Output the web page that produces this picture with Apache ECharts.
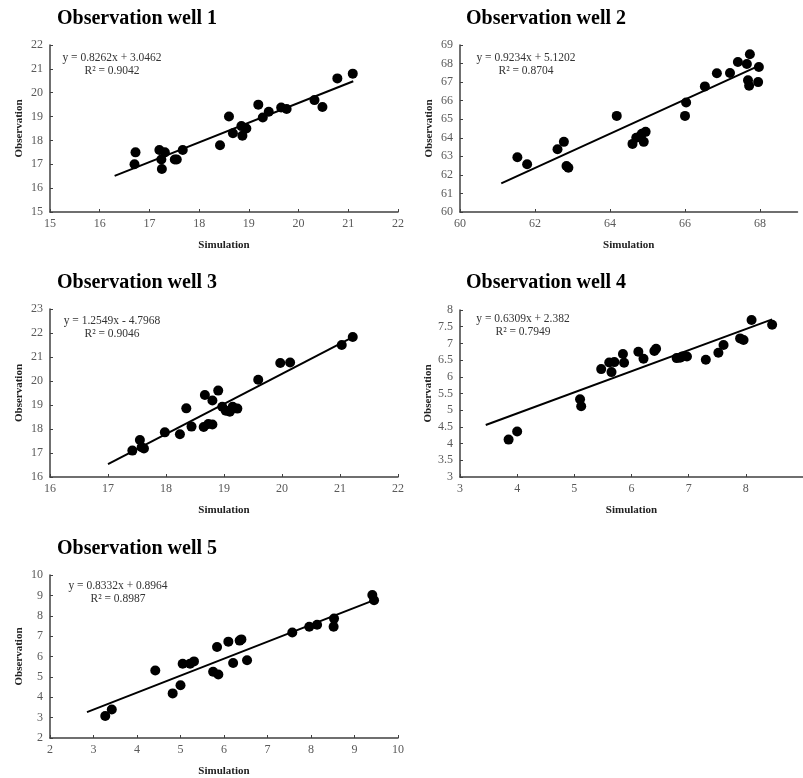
<!DOCTYPE html>
<html>
<head>
<meta charset="utf-8">
<script src="https://cdn.jsdelivr.net/npm/echarts@6/dist/echarts.min.js"></script>
<style>
  html, body { margin: 0; padding: 0; background: #fff; }
  #chart { width: 803px; height: 778px; }
</style>
</head>
<body>
<div id="chart"></div>
<script>
// panel titles
var wellNames = ["Observation well 1", "Observation well 2", "Observation well 3", "Observation well 4", "Observation well 5"];

// well 1: [simulation, observation]
var well1 = [
  [16.7, 17.0], [16.72, 17.5], [17.2, 17.6], [17.24, 17.2], [17.25, 16.8], [17.31, 17.5],
  [17.51, 17.2], [17.55, 17.2], [17.67, 17.6], [18.42, 17.8], [18.6, 19.0], [18.68, 18.3],
  [18.85, 18.6], [18.87, 18.2], [18.95, 18.5], [19.19, 19.5], [19.28, 18.96], [19.4, 19.2],
  [19.65, 19.38], [19.76, 19.32], [20.32, 19.69], [20.48, 19.4], [20.78, 20.6], [21.09, 20.8]
];
// well 2
var well2 = [
  [61.53, 62.95], [61.79, 62.57], [62.6, 63.38], [62.77, 63.78], [62.84, 62.48], [62.89, 62.38],
  [64.18, 65.18], [64.6, 63.67], [64.7, 64.0], [64.8, 64.08], [64.85, 64.22], [64.9, 63.78],
  [64.95, 64.32], [66.0, 65.18], [66.03, 65.9], [66.53, 66.77], [66.85, 67.48], [67.2, 67.49],
  [67.41, 68.08], [67.65, 67.98], [67.73, 68.5], [67.68, 67.1], [67.71, 66.8], [67.97, 67.81],
  [67.95, 67.0]
];
// well 3
var well3 = [
  [17.42, 17.1], [17.55, 17.54], [17.58, 17.24], [17.62, 17.19], [17.98, 17.86], [18.24, 17.78],
  [18.35, 18.86], [18.44, 18.1], [18.65, 18.08], [18.67, 19.42], [18.73, 18.21], [18.8, 18.19],
  [18.8, 19.19], [18.9, 19.6], [18.97, 18.93], [19.03, 18.76], [19.1, 18.72], [19.15, 18.93],
  [19.23, 18.85], [19.59, 20.05], [19.97, 20.75], [20.14, 20.77], [21.03, 21.5], [21.22, 21.83]
];
// well 4
var well4 = [
  [3.85, 4.12], [4.0, 4.36], [5.1, 5.33], [5.12, 5.12], [5.47, 6.23], [5.61, 6.43],
  [5.65, 6.14], [5.7, 6.44], [5.85, 6.68], [5.87, 6.42], [6.12, 6.75], [6.21, 6.54],
  [6.4, 6.77], [6.43, 6.84], [6.79, 6.56], [6.85, 6.57], [6.89, 6.61], [6.97, 6.61],
  [7.3, 6.51], [7.52, 6.72], [7.61, 6.95], [7.9, 7.15], [7.96, 7.1], [8.1, 7.7], [8.46, 7.56]
];
// well 5
var well5 = [
  [3.27, 3.08], [3.42, 3.4], [4.42, 5.31], [4.82, 4.19], [5.0, 4.59], [5.05, 5.64],
  [5.22, 5.65], [5.31, 5.76], [5.75, 5.25], [5.84, 6.47], [5.87, 5.12], [6.1, 6.73],
  [6.21, 5.68], [6.36, 6.78], [6.4, 6.84], [6.53, 5.82], [7.57, 7.18], [7.96, 7.46],
  [8.14, 7.56], [8.52, 7.46], [8.53, 7.86], [9.41, 9.02], [9.45, 8.76]
];

// fitted lines as printed on the chart, and their x extent
var slopes = [0.8262, 0.9234, 1.2549, 0.6309, 0.8332];
var intercepts = [3.0462, 5.1202, -4.7968, 2.382, 0.8964];
var trendFrom = [16.3, 61.1, 17.0, 3.45, 2.85];
var trendTo = [21.1, 67.95, 21.22, 8.46, 9.45];
var eqTexts = ["y = 0.8262x + 3.0462", "y = 0.9234x + 5.1202", "y = 1.2549x - 4.7968", "y = 0.6309x + 2.382", "y = 0.8332x + 0.8964"];
var r2Texts = ["R\u00b2 = 0.9042", "R\u00b2 = 0.8704", "R\u00b2 = 0.9046", "R\u00b2 = 0.7949", "R\u00b2 = 0.8987"];

// axis ranges
var xMin = [15, 60, 16, 3, 2], xMax = [22, 69, 22, 9, 10], xStep = [1, 2, 1, 1, 1];
var yMin = [15, 60, 16, 3, 2], yMax = [22, 69, 23, 8, 10], yStep = [1, 1, 1, 0.5, 1];

var allWells = [well1, well2, well3, well4, well5];

// layout of the panels
var grids = [
  { left: 50, top: 45, width: 348, height: 167 },
  { left: 460, top: 45, width: 337.5, height: 167 },
  { left: 50, top: 309, width: 348, height: 168 },
  { left: 460, top: 310, width: 347, height: 167 },
  { left: 50, top: 575, width: 348, height: 166 }
];
var titlePos = [[57, 9], [466, 9], [57, 273], [466, 273], [57, 539]];
var eqPos = [[112, 64], [526, 64], [112, 327], [523, 325], [118, 592]];

var fontFam = "'Liberation Serif', 'Times New Roman', serif";

var option = {
  animation: false,
  backgroundColor: "#fff",
  title: [],
  grid: [],
  xAxis: [],
  yAxis: [],
  series: [],
  graphic: []
};

for (var i = 0; i < 5; i++) {
  option.title.push({
    text: wellNames[i],
    left: titlePos[i][0],
    top: titlePos[i][1],
    padding: 0,
    textStyle: { fontFamily: fontFam, fontWeight: "bold", fontSize: 20, color: "#000" }
  });
  option.grid.push(Object.assign({ containLabel: false }, grids[i]));
  option.xAxis.push({
    type: "value",
    gridIndex: i,
    min: xMin[i],
    max: xMax[i],
    interval: xStep[i],
    name: "Simulation",
    nameLocation: "middle",
    nameGap: 28,
    nameTextStyle: { fontFamily: fontFam, fontWeight: "bold", fontSize: 11, color: "#222" },
    axisLine: { onZero: false, lineStyle: { color: "#404040", width: 1.5 } },
    axisTick: { show: true, inside: true, length: 3, lineStyle: { color: "#404040" } },
    axisLabel: {
      fontFamily: fontFam, fontSize: 12, color: "#595959", margin: 6,
      showMaxLabel: (i === 1 || i === 3) ? false : true
    },
    splitLine: { show: false }
  });
  option.yAxis.push({
    type: "value",
    gridIndex: i,
    min: yMin[i],
    max: yMax[i],
    interval: yStep[i],
    name: "Observation",
    nameLocation: "middle",
    nameGap: 25,
    nameTextStyle: { fontFamily: fontFam, fontWeight: "bold", fontSize: 11, color: "#222" },
    axisLine: { show: true, onZero: false, lineStyle: { color: "#404040", width: 1.5 } },
    axisTick: { show: true, inside: true, length: 3, lineStyle: { color: "#404040" } },
    axisLabel: { fontFamily: fontFam, fontSize: 12, color: "#595959", margin: 7 },
    splitLine: { show: false }
  });
  option.series.push({
    type: "scatter",
    xAxisIndex: i,
    yAxisIndex: i,
    data: allWells[i],
    symbol: "circle",
    symbolSize: 10,
    itemStyle: { color: "#000", opacity: 1 }
  });
  option.series.push({
    type: "line",
    xAxisIndex: i,
    yAxisIndex: i,
    data: [
      [trendFrom[i], slopes[i] * trendFrom[i] + intercepts[i]],
      [trendTo[i], slopes[i] * trendTo[i] + intercepts[i]]
    ],
    symbol: "none",
    lineStyle: { color: "#000", width: 2 },
    z: 3
  });
  option.graphic.push({
    type: "text",
    x: eqPos[i][0],
    y: eqPos[i][1],
    style: {
      text: eqTexts[i] + "\n" + r2Texts[i],
      align: "center",
      verticalAlign: "middle",
      lineHeight: 13,
      font: "11.5px " + fontFam,
      fill: "#333"
    }
  });
}

var myChart = echarts.init(document.getElementById("chart"));
myChart.setOption(option);
</script>
</body>
</html>
